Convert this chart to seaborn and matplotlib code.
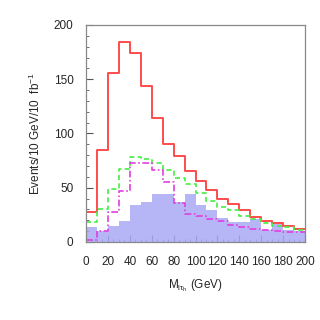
import numpy as np
import pandas as pd
import matplotlib
matplotlib.use("Agg")
import matplotlib.pyplot as plt
import seaborn as sns
from matplotlib.ticker import MultipleLocator

edges = list(range(0, 210, 10))
centers = [e + 5 for e in edges[:-1]]

red = [28, 85, 156, 184, 174, 144, 114, 90, 79, 65, 56, 48, 40, 35, 29, 23, 19, 17, 15, 12]
green = [18, 30, 49, 67, 78, 76, 73, 66, 59, 53, 45, 38, 32, 29, 24, 21, 17, 15, 14, 11]
magenta = [2, 10, 28, 47, 73, 73, 66, 55, 36, 26, 24, 21, 19, 16, 14, 12, 11, 10, 9, 9]
blue = [14, 10, 15, 19, 34, 37, 44, 44, 37, 44, 34, 29, 22, 18, 18, 21, 11, 17, 11, 10]

xticks = [0, 20, 40, 60, 80, 100, 120, 140, 160, 180, 200]
yticks = [0, 50, 100, 150, 200]

sns.set_theme(style="white")
plt.rcParams['font.family'] = ['Liberation Sans', 'DejaVu Sans']
plt.rcParams['mathtext.fontset'] = 'custom'
plt.rcParams['mathtext.rm'] = 'Liberation Sans'
plt.rcParams['mathtext.it'] = 'Liberation Sans'

fig = plt.figure(figsize=(3.2, 3.2), dpi=100)
ax = fig.add_axes([0.269, 0.244, 0.684, 0.678])

df = pd.DataFrame({"x": centers, "red": red, "green": green, "magenta": magenta, "blue": blue})

sns.histplot(data=df, x="x", weights="blue", bins=edges, element="step", fill=True,
             color="#a9a9f5", alpha=0.85, linewidth=0, ax=ax)
sns.histplot(data=df, x="x", weights="red", bins=edges, element="step", fill=False,
             color="#ff4c4c", linewidth=1.4, ax=ax)
sns.histplot(data=df, x="x", weights="green", bins=edges, element="step", fill=False,
             color="#44ee44", linewidth=1.2, linestyle=(0, (3, 2)), ax=ax)
sns.histplot(data=df, x="x", weights="magenta", bins=edges, element="step", fill=False,
             color="#e040e0", linewidth=1.2, linestyle=(0, (4, 1.5, 1, 1.5)), ax=ax)

ax.set_xlim(0, 200)
ax.set_ylim(0, 200)
ax.set_xticks(xticks)
ax.set_xticklabels([str(t) for t in xticks])
ax.set_yticks(yticks)
ax.set_yticklabels([str(t) for t in yticks])
ax.xaxis.set_minor_locator(MultipleLocator(5))
ax.yaxis.set_minor_locator(MultipleLocator(10))
ax.tick_params(axis="both", which="major", direction="in", length=5, width=0.8,
               color="#555555", labelsize=8.5)
ax.tick_params(axis="x", which="major", pad=10)
ax.tick_params(axis="y", which="major", pad=9)
ax.tick_params(axis="both", which="minor", direction="in", length=2.5, width=0.6,
               color="#555555")
ax.tick_params(bottom=True, left=True, which="both")
for s in ax.spines.values():
    s.set_color("#888888")
    s.set_linewidth(0.9)

ax.set_xlabel(r"M$_{l\tau_h}$ (GeV)", fontsize=8.5, labelpad=7)
ax.set_ylabel(r"Events/10 GeV/10  fb$^{-1}$", fontsize=8.5, labelpad=8)

fig.savefig("out.png", dpi=100)
